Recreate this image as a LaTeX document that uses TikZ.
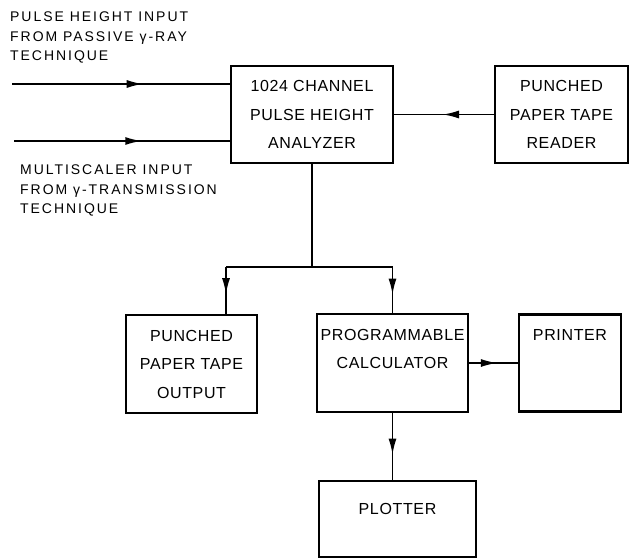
\documentclass[tikz,border=0pt]{standalone}
\usepackage{fontspec}
\setmainfont{Liberation Sans}
\newfontfamily\boxfont{Liberation Sans}[LetterSpace=4]
\newfontfamily\notefont{Liberation Sans}[LetterSpace=14]
\usetikzlibrary{calc, positioning}
\usetikzlibrary{arrows.meta}
\usetikzlibrary{decorations.markings}

\begin{document}
\begin{tikzpicture}[x=1pt, y=-1pt,
  unit/.style={draw, line width=2.3pt, align=center, inner sep=0pt,
    font=\boxfont\fontsize{16}{28.5}\selectfont},
  note/.style={align=left, inner sep=0pt, anchor=north west,
    font=\notefont\fontsize{14}{19.5}\selectfont},
  wire/.style={line width=1.5pt},
  flow/.style={wire, postaction={decorate}, decoration={markings,
    mark=at position #1 with {\arrow{Latex[length=16pt,width=8pt]}}}}]
\useasboundingbox (0,0) rectangle (630,559);

\node[unit, minimum width=162pt, minimum height=97pt] (analyzer) at (312,114.5) {1024 CHANNEL\\PULSE HEIGHT\\ANALYZER};
\node[unit, minimum width=133pt, minimum height=97pt] (reader) at (561.5,114.5) {PUNCHED\\PAPER TAPE\\READER};
\node[unit, minimum width=131pt, minimum height=98pt] (tapeout) at (191.5,364) {PUNCHED\\PAPER TAPE\\OUTPUT};
\node[unit, minimum width=151pt, minimum height=98pt] (calc) at (392.5,363) {PROGRAMMABLE\\CALCULATOR\\\mbox{}};
\node[unit, minimum width=102pt, minimum height=97pt] (printer) at (570,363) {PRINTER\\\mbox{}\\\mbox{}};
\node[unit, minimum width=157pt, minimum height=76pt] (plotter) at (397.5,519) {PLOTTER\\[-9pt]\mbox{}};

\node[note] (gammanote) at (10,12) {PULSE HEIGHT INPUT\\FROM PASSIVE γ-RAY\\TECHNIQUE};
\node[note] (transnote) at (20,165) {MULTISCALER INPUT\\FROM γ-TRANSMISSION\\TECHNIQUE};

\coordinate (in1) at (12,84);
\coordinate (in2) at (14,141);
\coordinate (split) at (analyzer.south |- 0,267);
\coordinate (drop) at (226,267);

\draw[flow=0.6] (in1) -- (in1 -| analyzer.west);
\draw[flow=0.59] (in2) -- (in2 -| analyzer.west);
\draw[flow=0.51] (reader.west) -- (analyzer.east);
\draw[wire] (analyzer.south) -- (split);
\draw[wire] (drop) -- (split -| calc.north);
\draw[flow=0.58] (drop) -- (drop |- tapeout.north);
\draw[flow=0.6] (split -| calc.north) -- (calc.north);
\draw[flow=0.57] (calc.east) -- (printer.west);
\draw[flow=0.62] (calc.south) -- (calc.south |- plotter.north);
\end{tikzpicture}
\end{document}
